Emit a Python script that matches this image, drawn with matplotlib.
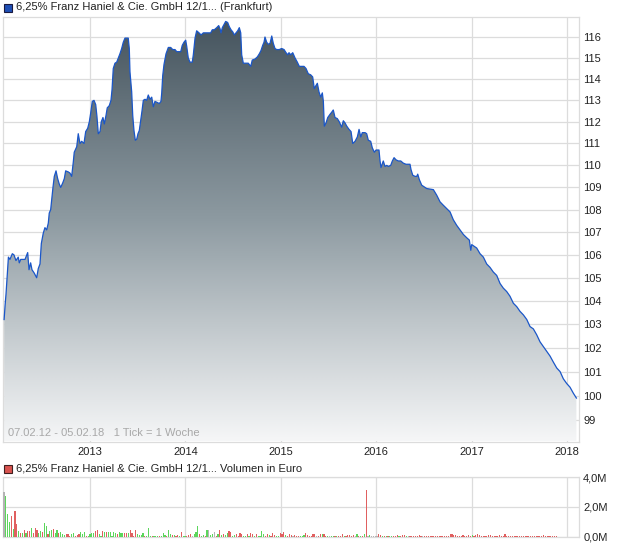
import numpy as np
import pandas as pd
import matplotlib
matplotlib.use('Agg')
import matplotlib.pyplot as plt
import matplotlib.dates as mdates
from matplotlib.ticker import FixedLocator, NullLocator
from matplotlib.colors import LinearSegmentedColormap

plt.rcParams['font.family'] = ['Liberation Sans', 'DejaVu Sans']

# price series: time in decimal years, price in %
price_years = [
    2012.100, 2012.110, 2012.120, 2012.135, 2012.145, 2012.161, 2012.186, 2012.203, 2012.224, 2012.248,
    2012.259, 2012.274, 2012.319, 2012.337, 2012.347, 2012.361, 2012.378, 2012.392, 2012.416, 2012.441,
    2012.458, 2012.476, 2012.490, 2012.510, 2012.528, 2012.546, 2012.563, 2012.573, 2012.588, 2012.599,
    2012.612, 2012.626, 2012.644, 2012.661, 2012.678, 2012.693, 2012.714, 2012.731, 2012.745, 2012.773,
    2012.790, 2012.808, 2012.825, 2012.835, 2012.861, 2012.877, 2012.895, 2012.913, 2012.937, 2012.955,
    2012.976, 2012.993, 2013.007, 2013.024, 2013.042, 2013.060, 2013.073, 2013.087, 2013.105, 2013.118,
    2013.136, 2013.150, 2013.168, 2013.181, 2013.202, 2013.220, 2013.231, 2013.244, 2013.262, 2013.280,
    2013.297, 2013.314, 2013.332, 2013.349, 2013.367, 2013.385, 2013.401, 2013.412, 2013.419, 2013.437,
    2013.448, 2013.461, 2013.475, 2013.490, 2013.503, 2013.517, 2013.531, 2013.545, 2013.559, 2013.577,
    2013.594, 2013.611, 2013.629, 2013.647, 2013.664, 2013.681, 2013.705, 2013.726, 2013.744, 2013.752,
    2013.762, 2013.776, 2013.797, 2013.821, 2013.846, 2013.867, 2013.891, 2013.909, 2013.933, 2013.951,
    2013.967, 2013.985, 2014.003, 2014.014, 2014.030, 2014.048, 2014.072, 2014.083, 2014.101, 2014.118,
    2014.143, 2014.164, 2014.188, 2014.213, 2014.240, 2014.265, 2014.282, 2014.303, 2014.328, 2014.349,
    2014.363, 2014.373, 2014.387, 2014.405, 2014.422, 2014.443, 2014.460, 2014.478, 2014.496, 2014.513,
    2014.530, 2014.548, 2014.565, 2014.580, 2014.590, 2014.607, 2014.635, 2014.659, 2014.685, 2014.701,
    2014.730, 2014.754, 2014.775, 2014.792, 2014.810, 2014.824, 2014.834, 2014.852, 2014.869, 2014.887,
    2014.905, 2014.921, 2014.939, 2014.957, 2014.984, 2015.009, 2015.034, 2015.055, 2015.072, 2015.086,
    2015.104, 2015.125, 2015.149, 2015.173, 2015.194, 2015.219, 2015.243, 2015.264, 2015.288, 2015.313,
    2015.334, 2015.351, 2015.369, 2015.383, 2015.400, 2015.418, 2015.435, 2015.446, 2015.456, 2015.474,
    2015.492, 2015.516, 2015.534, 2015.550, 2015.568, 2015.592, 2015.613, 2015.638, 2015.655, 2015.673,
    2015.691, 2015.715, 2015.736, 2015.754, 2015.778, 2015.802, 2015.820, 2015.838, 2015.854, 2015.883,
    2015.900, 2015.917, 2015.942, 2015.959, 2015.980, 2015.998, 2016.029, 2016.040, 2016.050, 2016.074,
    2016.092, 2016.110, 2016.127, 2016.152, 2016.169, 2016.187, 2016.208, 2016.232, 2016.257, 2016.284,
    2016.312, 2016.336, 2016.354, 2016.365, 2016.383, 2016.407, 2016.425, 2016.435, 2016.452, 2016.477,
    2016.529, 2016.599, 2016.634, 2016.669, 2016.703, 2016.739, 2016.774, 2016.808, 2016.844, 2016.878,
    2016.913, 2016.949, 2016.976, 2016.991, 2017.001, 2017.018, 2017.053, 2017.088, 2017.123, 2017.158,
    2017.193, 2017.227, 2017.263, 2017.298, 2017.332, 2017.368, 2017.402, 2017.437, 2017.473, 2017.507,
    2017.542, 2017.578, 2017.612, 2017.647, 2017.682, 2017.717, 2017.752, 2017.787, 2017.822, 2017.856,
    2017.892, 2017.927, 2017.961, 2017.997, 2018.031, 2018.066, 2018.098,
]
price_vals = [
    103.2, 103.8, 104.3, 105.3, 105.9, 105.8, 106.05, 106.0, 105.75, 105.9,
    105.65, 105.8, 105.8, 106.0, 106.1, 105.35, 105.65, 105.35, 105.2, 105.0,
    105.4, 105.6, 106.5, 106.95, 107.2, 107.1, 107.4, 107.85, 108.0, 108.45,
    109.0, 109.5, 109.75, 109.4, 109.15, 109.0, 109.2, 109.4, 109.75, 109.7,
    109.65, 109.5, 110.15, 110.6, 110.85, 111.45, 111.0, 111.1, 111.0, 111.55,
    111.7, 112.0, 112.4, 112.95, 113.0, 112.8, 112.25, 111.45, 111.55, 112.0,
    112.2, 111.9, 112.3, 112.65, 112.75, 113.0, 113.5, 114.5, 114.75, 114.8,
    115.0, 115.2, 115.45, 115.75, 115.95, 115.95, 115.95, 115.45, 114.35, 113.4,
    112.3, 111.6, 111.15, 111.2, 111.45, 111.6, 112.05, 112.5, 113.0, 113.05,
    113.0, 113.25, 113.05, 113.15, 112.7, 112.95, 112.9, 112.85, 112.95, 113.35,
    114.15, 114.7, 115.2, 115.5, 115.5, 115.4, 115.4, 115.3, 115.3, 115.3,
    115.6, 115.75, 115.85, 115.55, 115.0, 114.8, 114.8, 115.15, 115.95, 116.3,
    116.2, 116.1, 116.2, 116.2, 116.2, 116.2, 116.35, 116.35, 116.45, 116.55,
    116.4, 116.2, 116.45, 116.6, 116.75, 116.7, 116.5, 116.35, 116.25, 116.1,
    116.2, 116.3, 116.45, 116.2, 115.15, 114.75, 114.75, 114.75, 114.6, 114.9,
    114.95, 115.05, 115.2, 115.35, 115.6, 115.75, 116.0, 115.75, 115.65, 115.7,
    116.05, 115.7, 115.45, 115.4, 115.4, 115.45, 115.4, 115.25, 115.15, 115.25,
    115.15, 115.25, 115.0, 114.8, 114.6, 114.6, 114.6, 114.5, 114.25, 114.2,
    114.1, 113.55, 113.7, 113.8, 113.4, 113.15, 113.35, 112.95, 111.8, 111.95,
    112.2, 112.35, 112.45, 112.55, 112.2, 112.15, 112.0, 111.75, 112.05, 111.95,
    111.8, 111.65, 111.55, 111.0, 111.1, 111.3, 111.65, 111.3, 111.5, 111.5,
    111.45, 111.15, 111.1, 110.8, 110.6, 110.7, 110.7, 110.2, 109.9, 110.2,
    109.95, 110.0, 109.95, 110.0, 110.2, 110.35, 110.25, 110.2, 110.2, 110.1,
    110.05, 110.05, 110.05, 109.8, 109.55, 109.5, 109.5, 109.6, 109.35, 109.1,
    108.95, 108.9, 108.65, 108.35, 108.2, 108.05, 107.9, 107.55, 107.3, 107.1,
    106.9, 106.75, 106.65, 106.2, 106.45, 106.4, 106.3, 106.05, 105.9, 105.6,
    105.45, 105.25, 105.1, 104.75, 104.55, 104.4, 104.2, 103.9, 103.75, 103.55,
    103.4, 103.2, 102.9, 102.8, 102.55, 102.25, 102.05, 101.85, 101.65, 101.4,
    101.15, 101.0, 100.7, 100.5, 100.35, 100.1, 99.9,
]

# weekly volume in million euro, one colour code per week: g = up, r = down, n = unchanged
volume_m = [
    2.98, 2.72, 1.52, 0.98, 1.41, 0.55, 1.70, 0.83, 0.37, 0.28,
    0.25, 0.45, 0.28, 0.37, 0.37, 0.60, 0.28, 0.57, 0.48, 0.28,
    0.37, 0.30, 0.91, 0.69, 0.20, 0.37, 0.45, 0.50, 0.28, 0.45,
    0.24, 0.33, 0.15, 0.10, 0.20, 0.15, 0.07, 0.15, 0.24, 0.05,
    0.09, 0.15, 0.30, 0.15, 0.30, 0.07, 0.05, 0.20, 0.24, 0.24,
    0.37, 0.45, 0.15, 0.07, 0.37, 0.30, 0.30, 0.33, 0.33, 0.05,
    0.33, 0.24, 0.15, 0.30, 0.24, 0.24, 0.24, 0.24, 0.24, 0.48,
    0.24, 0.05, 0.45, 0.15, 0.11, 0.11, 0.28, 0.07, 0.05, 0.60,
    0.05, 0.05, 0.05, 0.05, 0.05, 0.05, 0.04, 0.28, 0.10, 0.06,
    0.45, 0.15, 0.10, 0.10, 0.05, 0.10, 0.05, 0.33, 0.05, 0.04,
    0.05, 0.10, 0.20, 0.05, 0.20, 0.33, 0.70, 0.20, 0.05, 0.10,
    0.05, 0.45, 0.45, 0.10, 0.20, 0.33, 0.05, 0.15, 0.45, 0.10,
    0.15, 0.10, 0.24, 0.37, 0.30, 0.05, 0.10, 0.15, 0.05, 0.28,
    0.15, 0.05, 0.05, 0.15, 0.05, 0.24, 0.15, 0.05, 0.15, 0.05,
    0.05, 0.37, 0.15, 0.05, 0.15, 0.10, 0.05, 0.28, 0.10, 0.05,
    0.05, 0.28, 0.15, 0.33, 0.10, 0.05, 0.20, 0.10, 0.05, 0.10,
    0.03, 0.05, 0.05, 0.05, 0.10, 0.28, 0.10, 0.05, 0.03, 0.20,
    0.20, 0.05, 0.05, 0.15, 0.20, 0.20, 0.03, 0.03, 0.03, 0.03,
    0.03, 0.03, 0.03, 0.03, 0.03, 0.20, 0.03, 0.03, 0.10, 0.10,
    0.05, 0.10, 0.03, 0.20, 0.07, 0.03, 0.05, 0.20, 3.17, 0.03,
    0.10, 0.02, 0.02, 0.02, 0.02, 0.20, 0.10, 0.03, 0.03, 0.03,
    0.03, 0.03, 0.03, 0.03, 0.03, 0.10, 0.03, 0.05, 0.10, 0.10,
    0.03, 0.05, 0.05, 0.03, 0.03, 0.03, 0.03, 0.10, 0.05, 0.03,
    0.03, 0.02, 0.03, 0.03, 0.02, 0.03, 0.05, 0.03, 0.05, 0.05,
    0.03, 0.05, 0.07, 0.05, 0.15, 0.20, 0.12, 0.10, 0.08, 0.05,
    0.05, 0.10, 0.05, 0.03, 0.10, 0.07, 0.10, 0.05, 0.12, 0.15,
    0.10, 0.05, 0.07, 0.05, 0.03, 0.10, 0.10, 0.07, 0.05, 0.03,
    0.05, 0.10, 0.05, 0.03, 0.20, 0.05, 0.03, 0.03, 0.05, 0.03,
    0.03, 0.03, 0.08, 0.03, 0.03, 0.03, 0.03, 0.03, 0.05, 0.03,
    0.03, 0.03, 0.05, 0.07, 0.03, 0.10, 0.08, 0.03, 0.05, 0.03,
    0.03, 0.05, 0.03,
]
volume_dir = (
    "nggg" "rgrrgr"
    "grgrrgrrrg"
    "grggrggrgg"
    "rgggrrrggr"
    "rrgggrgggg"
    "rrggrgrggg"
    "ggrgggrrgr"
    "rrrggggrgg"
    "grgggrgggr"
    "ggrgrrgrgg"
    "rrrngggrgg"
    "rgnggnrgrg"
    "rggrrggrrr"
    "rggrgrrgrg"
    "gggrrgrrrg"
    "grrrgrrrnr"
    "rrgggrrrrr"
    "rnrrgrrgng"
    "grgrrrgrrr"
    "rrngrgrgrn"
    "gnnnnrrgrg"
    "rggrrrgrrr"
    "gnrrrrrrrn"
    "rrrrrrrrrr"
    "rrrrrrrrrr"
    "rrrrrrgrrr"
    "rrrrrrrrrr"
    "rrrrrrrrrr"
    "rrrrrrrrrr"
    "rrrrrrrrrr"
    "rrrrrrrrrr"
    "rrr"
)
volume_start = '2012-02-07'

year_ticks = ['2013', '2014', '2015', '2016', '2017', '2018']
price_ticks = list(range(99, 117))
volume_ticks = [0, 2, 4]
volume_labels = ['0,0M', '2,0M', '4,0M']

grid_c = '#dcdcdc'
text_c = '#222222'

# convert decimal years to dates
dates = pd.Timestamp('2013-01-01') + pd.to_timedelta((np.array(price_years) - 2013) * 365.25, unit='D')
xs = mdates.date2num(dates.to_pydatetime())
n_vol = len(volume_m)
vdates = mdates.date2num((pd.Timestamp(volume_start) + pd.to_timedelta(np.arange(n_vol) * 7, unit='D')).to_pydatetime())

x_lo = mdates.date2num(pd.Timestamp('2012-02-03'))
x_hi = mdates.date2num(pd.Timestamp('2018-02-16'))
y_lo, y_hi = 98.12, 116.98
year_pos = [mdates.date2num(pd.Timestamp(y + '-01-01')) for y in year_ticks]

fig = plt.figure(figsize=(6.2, 5.46), dpi=100)
fig.patch.set_facecolor('white')

ax = fig.add_axes([3 / 620, (546 - 441.5) / 546, 576 / 620, 424.8 / 546])
ax.set_yscale('log')
ax.set_xlim(x_lo, x_hi)
ax.set_ylim(y_lo, y_hi)

# gradient area under the line
grad = np.linspace(0, 1, 256)[:, None]
cmap = LinearSegmentedColormap.from_list('area', ['#43525c', '#8d9aa1', '#f5f6f7'])
im = ax.imshow(grad, cmap=cmap, extent=[x_lo, x_hi, y_lo, y_hi], aspect='auto',
               origin='upper', zorder=2, interpolation='bilinear')
area = ax.fill_between(xs, price_vals, y_lo, facecolor='none', edgecolor='none', zorder=2)
im.set_clip_path(area.get_paths()[0], ax.transData)
ax.plot(xs, price_vals, color='#1a56c8', lw=0.9, zorder=3)

ax.set_xlim(x_lo, x_hi)
ax.set_ylim(y_lo, y_hi)
ax.yaxis.set_major_locator(FixedLocator(price_ticks))
ax.yaxis.set_minor_locator(NullLocator())
ax.set_yticklabels([str(v) for v in price_ticks])
ax.yaxis.tick_right()
ax.set_xticks(year_pos)
ax.set_xticklabels(year_ticks)
ax.tick_params(axis='both', length=0, labelsize=8, colors=text_c)
ax.tick_params(axis='y', pad=3)
ax.tick_params(axis='x', pad=4)
ax.set_axisbelow(True)
ax.grid(True, color=grid_c, lw=0.9)
for s in ax.spines.values():
    s.set_color(grid_c)
    s.set_linewidth(0.9)

ax.text(0.008, 0.008, '07.02.12 - 05.02.18   1 Tick = 1 Woche', transform=ax.transAxes,
        fontsize=8, color='#a8a8a8', ha='left', va='bottom', zorder=5)

# volume panel
axv = fig.add_axes([3 / 620, (546 - 536.7) / 546, 576 / 620, 59.4 / 546])
colors = {'g': '#5cd65c', 'r': '#e06060', 'n': '#b4b4b4'}
axv.bar(vdates, volume_m, width=4.5, color=[colors[c] for c in volume_dir],
        zorder=3, lw=0, antialiased=False)
axv.set_xlim(x_lo, x_hi)
axv.set_ylim(0, 4)
axv.set_xticks(year_pos)
axv.set_xticklabels([])
axv.set_yticks(volume_ticks)
axv.set_yticklabels(volume_labels)
axv.yaxis.tick_right()
axv.tick_params(axis='both', length=0, labelsize=8, colors=text_c)
axv.tick_params(axis='y', pad=3)
axv.set_axisbelow(True)
axv.grid(True, color=grid_c, lw=0.9)
for s in axv.spines.values():
    s.set_color(grid_c)
    s.set_linewidth(0.9)

# header legends
fig.patches.append(plt.Rectangle((4 / 620, 1 - 11.5 / 546), 8 / 620, 8 / 546, transform=fig.transFigure,
                                 facecolor='#1f4fb5', edgecolor='#1a1a40', lw=0.8))
fig.text(16 / 620, 1 - 7.5 / 546, '6,25% Franz Haniel & Cie. GmbH 12/1... (Frankfurt)',
         fontsize=8, color=text_c, va='center', ha='left')
fig.patches.append(plt.Rectangle((4 / 620, 1 - 472.5 / 546), 8 / 620, 8 / 546, transform=fig.transFigure,
                                 facecolor='#d9534f', edgecolor='#402020', lw=0.8))
fig.text(16 / 620, 1 - 468.5 / 546, '6,25% Franz Haniel & Cie. GmbH 12/1... Volumen in Euro',
         fontsize=8, color=text_c, va='center', ha='left')

plt.savefig('out.png', dpi=100, facecolor='white')
plt.close()
